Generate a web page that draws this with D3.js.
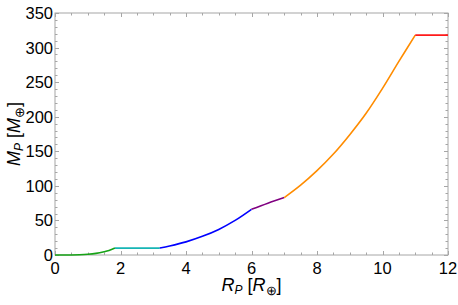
<head>
  <script src="https://d3js.org/d3.v7.min.js"></script>
</head>
<style>
  body { margin: 0; background: #fff; }
  text { font-family: "Liberation Sans", Arial, sans-serif; fill: #000; }
</style>
<body>
  <svg id="chart"></svg>
</body>
<script>
  var w = 458;
  var h = 305;
  var margin = {top: 13, right: 10, bottom: 50, left: 55};

  // segments of the mass-radius relation, [R, M]
  var green  = [[0, 0], [0.5, 0.1], [0.75, 0.35], [1, 1], [1.25, 2.3], [1.5, 4.7], [1.65, 6.6], [1.83, 10]];
  var cyan   = [[1.83, 10], [3.2, 10]];
  var blue   = [[3.2, 10], [3.5, 13], [4, 19], [4.5, 27], [5, 37], [5.5, 50], [6, 66]];
  var purple = [[6, 66], [6.5, 75], [7, 83]];
  var orange = [[7, 83], [7.5, 101], [8, 122], [8.5, 146], [9, 174], [9.5, 205], [10, 241], [10.5, 280], [11, 318]];
  var red    = [[11, 318], [12, 318]];

  var segments = [
    {pts: green,  color: "#17a317"},
    {pts: cyan,   color: "#16b5b5"},
    {pts: blue,   color: "#0000ff"},
    {pts: purple, color: "#800080"},
    {pts: orange, color: "#ff8c00"},
    {pts: red,    color: "#ff1a1a"}
  ];

  var xTicks = [0, 2, 4, 6, 8, 10, 12];
  var yTicks = [0, 50, 100, 150, 200, 250, 300, 350];

  var x = d3.scaleLinear().domain([0, 12]).range([margin.left, w - margin.right]);
  var y = d3.scaleLinear().domain([0, 350]).range([h - margin.bottom, margin.top]);

  var svg = d3.select("#chart").attr("width", w).attr("height", h);

  var frameColor = "#a6a6a6";

  // ticks on all four sides, pointing inward
  var xMinor = d3.range(0, 12.01, 0.5);
  var yMinor = d3.range(0, 350.1, 10);
  var ticks = svg.append("g").attr("stroke", frameColor).attr("stroke-width", 1);
  xMinor.forEach(function(v){
    var len = (v % 2 === 0) ? 4 : 2.5;
    var px = Math.round(x(v)) + 0.5;
    ticks.append("line").attr("x1", px).attr("x2", px).attr("y1", y(0)).attr("y2", y(0) - len);
    ticks.append("line").attr("x1", px).attr("x2", px).attr("y1", y(350)).attr("y2", y(350) + len);
  });
  yMinor.forEach(function(v){
    var len = (v % 50 === 0) ? 4 : 2.5;
    var py = Math.round(y(v)) + 0.5;
    ticks.append("line").attr("y1", py).attr("y2", py).attr("x1", x(0)).attr("x2", x(0) + len);
    ticks.append("line").attr("y1", py).attr("y2", py).attr("x1", x(12)).attr("x2", x(12) - len);
  });

  // frame
  svg.append("rect")
    .attr("x", x(0)).attr("y", y(350))
    .attr("width", x(12) - x(0)).attr("height", y(0) - y(350))
    .attr("fill", "none").attr("stroke", frameColor).attr("stroke-width", 1);

  // tick labels
  svg.append("g").selectAll("text")
    .data(xTicks).enter().append("text")
    .attr("x", function(d){ return x(d); })
    .attr("y", y(0) + 18.5)
    .attr("text-anchor", "middle")
    .attr("font-size", 16.5)
    .text(function(d){ return d; });

  svg.append("g").selectAll("text")
    .data(yTicks).enter().append("text")
    .attr("x", x(0) - 2)
    .attr("y", function(d){ return y(d) + 6; })
    .attr("text-anchor", "end")
    .attr("font-size", 16.5)
    .text(function(d){ return d; });

  // curves
  var line = d3.line()
    .x(function(d){ return x(d[0]); })
    .y(function(d){ return y(d[1]); })
    .curve(d3.curveCatmullRom.alpha(0.5));

  svg.append("g").selectAll("path")
    .data(segments).enter().append("path")
    .attr("d", function(d){ return line(d.pts); })
    .attr("fill", "none")
    .attr("stroke", function(d){ return d.color; })
    .attr("stroke-width", 1.6);

  // axis labels
  function label(sel, v) {
    sel.append("tspan").attr("font-style", "italic").text(v);
    sel.append("tspan").attr("font-style", "italic").attr("font-size", 12).attr("dy", 3).text("P");
    sel.append("tspan").attr("dy", -3).text(" [");
    sel.append("tspan").attr("font-style", "italic").text(v);
    sel.append("tspan").attr("font-size", 13).attr("dy", 4).text("\u2295");
    sel.append("tspan").attr("dy", -4).text("]");
  }

  var xl = svg.append("text")
    .attr("x", (x(0) + x(12)) / 2)
    .attr("y", h - 14)
    .attr("text-anchor", "middle")
    .attr("font-size", 18);
  label(xl, "R");

  var yl = svg.append("text")
    .attr("transform", "translate(20," + (y(175)) + ") rotate(-90)")
    .attr("text-anchor", "middle")
    .attr("font-size", 18);
  label(yl, "M");
</script>
